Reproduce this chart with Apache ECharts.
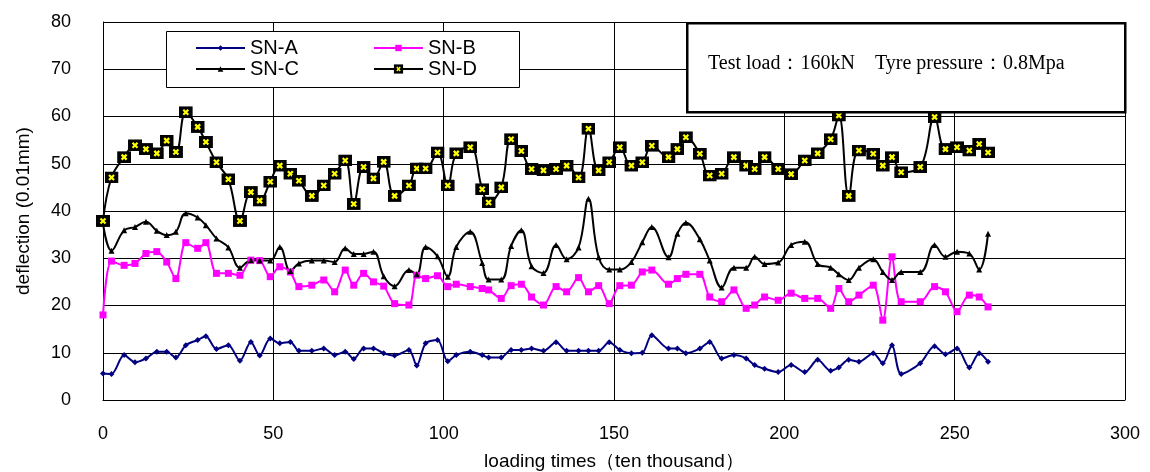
<!DOCTYPE html>
<html>
<head>
<meta charset="utf-8">
<script src="https://cdn.jsdelivr.net/npm/echarts@6/dist/echarts.min.js"></script>
<style>
  html, body { margin: 0; padding: 0; background: #fff; }
  #main { width: 1150px; height: 472px; }
</style>
</head>
<body>
<div id="main"></div>
<script>
// loading times (ten thousand), shared by all four series
var xs = [0, 2.5, 6.2, 9.4, 12.6, 15.8, 18.7, 21.4, 24.3, 27.8, 30.2, 33.3, 36.8, 40.2, 43.4, 46, 49.1, 51.9, 55, 57.5,
  61.3, 64.8, 68, 71.1, 73.6, 76.5, 79.4, 82.4, 85.6, 89.8, 92.1, 94.7, 98.2, 101.2, 103.7, 107.8, 111.3, 113.2, 116.9, 119.8,
  122.8, 125.8, 129.3, 133, 136.1, 139.6, 142.5, 145.5, 148.6, 151.7, 155.1, 158.3, 161.1, 166, 168.6, 171.1, 175.2, 178.1, 181.6, 185.2,
  188.8, 191.3, 194.2, 198.2, 202, 206, 209.8, 213.6, 216, 218.9, 221.9, 226.1, 228.9, 231.6, 234.3, 239.9, 244.1, 247.3, 250.7, 254.3,
  257.2, 259.8];

var snA = [5.6, 5.5, 9.5, 8.0, 8.8, 10.2, 10.2, 9.0, 11.6, 12.7, 13.5, 10.8, 11.6, 8.3, 12.3, 9.4, 13.0, 12.0, 12.3, 10.4,
  10.4, 10.9, 9.5, 10.2, 8.7, 10.9, 10.9, 9.9, 9.4, 10.6, 7.3, 12.0, 12.7, 8.2, 9.5, 10.2, 9.5, 9.0, 9.0, 10.6,
  10.6, 10.9, 10.4, 12.2, 10.4, 10.4, 10.4, 10.4, 12.2, 10.6, 9.9, 10.0, 13.7, 10.9, 10.9, 9.9, 10.9, 12.3, 8.8, 9.5,
  8.8, 7.4, 6.6, 5.9, 7.4, 5.9, 8.5, 6.2, 6.9, 8.5, 8.1, 9.9, 7.8, 11.6, 5.5, 7.8, 11.4, 9.7, 10.9, 6.9,
  9.9, 8.1];

var snB = [18.0, 29.4, 28.5, 28.9, 31.0, 31.4, 29.2, 25.7, 33.3, 32.1, 33.3, 26.8, 26.8, 26.4, 29.6, 29.5, 26.1, 28.2, 27.1, 24.0,
  24.3, 25.4, 22.9, 27.5, 24.3, 26.8, 25.0, 24.1, 20.4, 20.1, 26.4, 25.7, 26.3, 24.0, 24.5, 24.0, 23.6, 23.3, 21.5, 24.2,
  24.5, 21.8, 20.1, 24.0, 22.9, 25.9, 22.9, 24.2, 20.4, 24.2, 24.3, 27.1, 27.5, 24.5, 25.7, 26.6, 26.6, 21.8, 20.8, 23.3,
  19.4, 20.1, 21.8, 21.1, 22.6, 21.5, 21.5, 19.4, 23.6, 20.8, 22.2, 24.3, 16.9, 30.3, 20.8, 20.8, 24.0, 22.9, 18.7, 22.2,
  21.8, 19.7];

var snC = [37.4, 31.6, 35.9, 36.6, 37.7, 35.8, 34.9, 35.6, 39.5, 38.6, 37.0, 34.2, 32.3, 28.0, 29.6, 29.5, 29.5, 32.4, 27.3, 28.9,
  29.5, 29.5, 29.2, 32.1, 30.9, 30.9, 31.4, 26.2, 24.1, 27.5, 26.6, 32.4, 30.4, 26.1, 32.4, 35.6, 29.0, 25.5, 25.5, 32.6,
  35.9, 28.3, 26.9, 32.8, 29.8, 32.3, 42.6, 30.2, 27.6, 27.6, 29.2, 33.4, 36.6, 30.2, 35.2, 37.5, 34.0, 29.5, 23.8, 28.0,
  28.0, 30.3, 28.8, 29.1, 32.8, 33.5, 28.8, 28.0, 26.6, 25.4, 28.0, 29.8, 27.1, 25.4, 27.1, 27.1, 32.8, 30.3, 31.4, 31.0,
  27.6, 35.2];

var snD = [37.9, 47.1, 51.4, 53.9, 53.1, 52.2, 54.9, 52.5, 60.9, 57.8, 54.6, 50.3, 46.7, 37.9, 44.0, 42.2, 46.2, 49.6, 47.9, 46.4,
  43.2, 45.4, 47.9, 50.7, 41.5, 49.3, 46.9, 50.4, 43.2, 45.4, 49.0, 49.0, 52.4, 45.4, 52.2, 53.5, 44.6, 41.8, 45.0, 55.2,
  52.7, 48.9, 48.6, 48.9, 49.6, 47.1, 57.4, 48.6, 50.3, 53.5, 49.6, 50.3, 53.8, 51.4, 53.1, 55.6, 52.1, 47.5, 47.9, 51.4,
  49.6, 48.9, 51.4, 48.9, 47.8, 50.7, 52.2, 55.2, 60.2, 43.2, 52.8, 52.1, 49.6, 51.4, 48.2, 49.3, 59.9, 53.1, 53.5, 52.8,
  54.2, 52.4];

var seriesNames = ['SN-A', 'SN-B', 'SN-C', 'SN-D'];
var xTicks = [0, 50, 100, 150, 200, 250, 300];
var yTicks = [0, 10, 20, 30, 40, 50, 60, 70, 80];

function pairs(ys) {
  return xs.map(function (x, i) { return [x, ys[i]]; });
}

var markD = 'image://data:image/svg+xml;charset=utf-8,' + encodeURIComponent(
  "<svg xmlns='http://www.w3.org/2000/svg' width='14' height='12'>" +
  "<rect width='14' height='12' fill='black'/>" +
  "<path d='M4.5 3.5 L9.5 8.5 M9.5 3.5 L4.5 8.5' stroke='yellow' stroke-width='2.2'/></svg>");

var myChart = echarts.init(document.getElementById('main'));
var sans = 'Liberation Sans';

function legendAt(name, left, top, ih) {
  return {
    data: [name], left: left, top: top, padding: 0,
    itemWidth: 49, itemHeight: ih, itemGap: 0, z: 10,
    textStyle: { fontFamily: sans, fontSize: 20, color: '#000' }
  };
}

var option = {
  animation: false,
  backgroundColor: '#fff',
  grid: { left: 103, right: 25, top: 22, bottom: 72, outerBoundsMode: 'none' },
  legend: [
    legendAt('SN-A', 195, 38, 7),
    legendAt('SN-B', 373, 38, 8),
    legendAt('SN-C', 195, 59, 7),
    legendAt('SN-D', 373, 59, 12)
  ],
  graphic: [
    {
      type: 'rect', left: 166, top: 31, z: 5,
      shape: { width: 353, height: 56 },
      style: { fill: '#fff', stroke: '#000', lineWidth: 1 }
    },
    {
      type: 'rect', left: 686, top: 22, z: 5,
      shape: { width: 438, height: 89 },
      style: { fill: '#fff', stroke: '#000', lineWidth: 2.5 }
    },
    {
      type: 'text', left: 708, top: 54, z: 6,
      style: {
        text: 'Test load：160kN　Tyre pressure：0.8Mpa',
        font: '20px "Liberation Serif"', fill: '#000'
      }
    }
  ],
  xAxis: {
    type: 'value', min: 0, max: 300, interval: 50,
    name: 'loading times（ten thousand）',
    nameLocation: 'middle', nameGap: 52,
    nameTextStyle: { fontFamily: sans, fontSize: 19, color: '#000' },
    axisLine: { show: true, lineStyle: { color: '#000', width: 1 } },
    axisTick: { show: false },
    axisLabel: { fontFamily: sans, fontSize: 18, color: '#000', margin: 25,
      formatter: function (v) { return xTicks.indexOf(v) >= 0 ? String(v) : ''; } },
    splitLine: { show: true, lineStyle: { color: '#000', width: 1 } }
  },
  yAxis: {
    type: 'value', min: 0, max: 80, interval: 10,
    name: 'deflection (0.01mm)',
    nameLocation: 'middle', nameGap: 70, nameRotate: 90,
    nameTextStyle: { fontFamily: sans, fontSize: 19, color: '#000' },
    axisLine: { show: true, lineStyle: { color: '#000', width: 1 } },
    axisTick: { show: false },
    axisLabel: { fontFamily: sans, fontSize: 18, color: '#000', margin: 32,
      formatter: function (v) { return yTicks.indexOf(v) >= 0 ? String(v) : ''; } },
    splitLine: { show: true, lineStyle: { color: '#000', width: 1 } }
  },
  series: [
    {
      name: seriesNames[0], type: 'line', data: pairs(snA), smooth: 0.3,
      symbol: 'diamond', symbolSize: 6,
      lineStyle: { color: '#000080', width: 2 }, itemStyle: { color: '#000080' }
    },
    {
      name: seriesNames[1], type: 'line', data: pairs(snB), smooth: 0.3,
      symbol: 'rect', symbolSize: 7,
      lineStyle: { color: '#ff00ff', width: 2 }, itemStyle: { color: '#ff00ff' }
    },
    {
      name: seriesNames[2], type: 'line', data: pairs(snC), smooth: 0.4,
      symbol: 'triangle', symbolSize: 6,
      lineStyle: { color: '#000', width: 2 }, itemStyle: { color: '#000' }
    },
    {
      name: seriesNames[3], type: 'line', data: pairs(snD), smooth: 0.4,
      symbol: markD, symbolSize: [14, 12],
      lineStyle: { color: '#000', width: 2 }, itemStyle: { color: '#000' }
    }
  ]
};
myChart.setOption(option);
</script>
</body>
</html>
